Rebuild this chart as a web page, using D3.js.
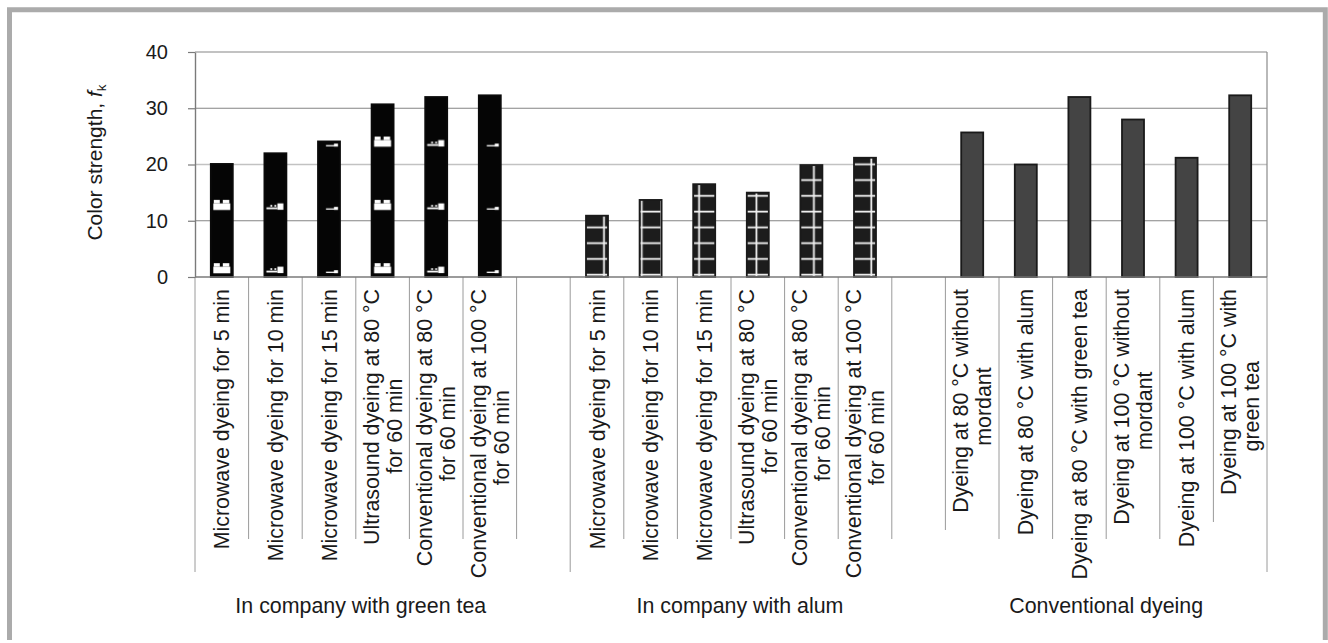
<!DOCTYPE html>
<html>
<head>
<meta charset="utf-8">
<script src="https://cdn.jsdelivr.net/npm/d3@7"></script>
<style>
  body { margin: 0; background: #fff; }
  text { font-family: "Liberation Sans", Arial, sans-serif; fill: #1a1a1a; }
</style>
</head>
<body>
<div id="chart"></div>
<script>
var svgWidth = 1328;
var svgHeight = 643;

var margin = {
  top: 52,
  right: 61,
  bottom: 366,
  left: 195
};

var width = svgWidth - margin.left - margin.right;
var height = svgHeight - margin.top - margin.bottom;

// data
var groupNames = ["In company with green tea", "In company with alum", "Conventional dyeing"];

var greenTeaLabels = [
  "Microwave dyeing for 5 min",
  "Microwave dyeing for 10 min",
  "Microwave dyeing for 15 min",
  "Ultrasound dyeing at 80 °C\nfor 60 min",
  "Conventional dyeing at 80 °C\nfor 60 min",
  "Conventional dyeing at 100 °C\nfor 60 min"
];
var greenTeaValues = [20.1, 22.0, 24.1, 30.7, 32.0, 32.3];

var alumLabels = greenTeaLabels.slice();
var alumValues = [10.9, 13.7, 16.5, 15.0, 19.9, 21.2];

var conventionalLabels = [
  "Dyeing at 80 °C without\nmordant",
  "Dyeing at 80 °C with alum",
  "Dyeing at 80 °C with green tea",
  "Dyeing at 100 °C without\nmordant",
  "Dyeing at 100 °C with alum",
  "Dyeing at 100 °C with\ngreen tea"
];
var conventionalValues = [25.7, 20.0, 32.0, 28.0, 21.2, 32.3];

var yTicks = [0, 10, 20, 30, 40];

// build the 20 category slots (6 + gap + 6 + gap + 6)
var slots = [];
[[greenTeaLabels, greenTeaValues], [alumLabels, alumValues], [conventionalLabels, conventionalValues]]
  .forEach(function(g, gi) {
    g[0].forEach(function(lab, i) {
      slots.push({key: "g" + gi + "-" + i, group: gi, label: lab, value: g[1][i]});
    });
    if (gi < 2) slots.push({key: "gap" + gi, group: -1, label: "", value: null});
  });

// how far each slot divider drops below the axis (px)
var dividerDrop = {0: 295, 7: 295, 14: 253, 19: 245, 20: 295};
// small nudges of the group captions (px)
var groupShift = [5, 9, 0];

var svg = d3.select("#chart")
  .append("svg")
  .attr("width", svgWidth)
  .attr("height", svgHeight);

svg.append("rect").attr("width", svgWidth).attr("height", svgHeight).attr("fill", "#fff");

// grey frame
svg.append("path")
  .attr("d", "M9.5,640 V9.8 H1325.3 V640")
  .attr("fill", "none")
  .attr("stroke", "#ababab")
  .attr("stroke-width", 5);

var chartGroup = svg.append("g")
  .attr("transform", `translate(${margin.left}, ${margin.top})`);

var x = d3.scaleBand()
  .domain(slots.map(d => d.key))
  .range([0, width])
  .padding(0);

var y = d3.scaleLinear()
  .domain([0, 40])
  .range([height, 0]);

var step = x.step();
var bw = 22;

// patterns
var defs = svg.append("defs");

// green tea: black with small white marks
var tile = 3 * step, tileH = 63.3;
var tea = defs.append("pattern")
  .attr("id", "teaPat")
  .attr("patternUnits", "userSpaceOnUse")
  .attr("x", 0).attr("y", y(0))
  .attr("width", tile).attr("height", tileH);
tea.append("rect").attr("width", tile).attr("height", tileH).attr("fill", "#050505");
var b0 = step / 2 - bw / 2, b2 = b0 + 2 * step;
var marks = [
  // bold
  [b0 + 3, 49.5, 6, 3.5], [b0 + 12, 49.5, 6.5, 3.5], [b0 + 2.5, 53, 17, 6.6],
  // medium
  [b0 + step + 2, 57, 11, 1.8], [b0 + step + 13, 53, 6, 6.4], [b0 + step + 6, 54.5, 1.8, 1.8], [b0 + step + 10, 54.5, 1.8, 1.8],
  // thin
  [b2 + 8, 58, 9, 1.3], [b2 + 16, 56.5, 4, 3]
];
marks.forEach(function(m) {
  tea.append("rect").attr("x", m[0]).attr("y", m[1]).attr("width", m[2]).attr("height", m[3]).attr("fill", "#fff");
});

// alum: dark with white ladder lines
var alumW = 57.4, alumH = 15.77;
var alum = defs.append("pattern")
  .attr("id", "alumPat")
  .attr("patternUnits", "userSpaceOnUse")
  .attr("x", 0).attr("y", y(0))
  .attr("width", alumW).attr("height", alumH);
alum.append("rect").attr("width", alumW).attr("height", alumH).attr("fill", "#1c1c1c");
alum.append("rect").attr("x", 0).attr("y", alumH - 3.2).attr("width", alumW).attr("height", 1.8).attr("fill", "#f2f2f2");
alum.append("rect").attr("x", 44).attr("y", 0).attr("width", 1.8).attr("height", alumH).attr("fill", "#f2f2f2");
alum.append("rect").attr("x", 6.3).attr("y", 0).attr("width", 1.8).attr("height", alumH).attr("fill", "#f2f2f2");

// gridlines
chartGroup.selectAll(".grid")
  .data(yTicks.filter(t => t > 0))
  .enter()
  .append("line")
  .attr("x1", 0)
  .attr("x2", width)
  .attr("y1", d => y(d))
  .attr("y2", d => y(d))
  .attr("stroke", d => d === 20 ? "#c2c2c2" : "#858585")
  .attr("stroke-width", d => d === 20 ? 1.6 : 1.2);

// right border
chartGroup.append("line")
  .attr("x1", width).attr("x2", width)
  .attr("y1", 0).attr("y2", height)
  .attr("stroke", "#8a8a8a").attr("stroke-width", 1.2);

// slot dividers below the axis
var bounds = d3.range(slots.length + 1);
chartGroup.selectAll(".divider")
  .data(bounds)
  .enter()
  .append("line")
  .attr("x1", d => d * step)
  .attr("x2", d => d * step)
  .attr("y1", height)
  .attr("y2", d => height + (dividerDrop[d] || 262))
  .attr("stroke", "#9a9a9a")
  .attr("stroke-width", 1);

// bars
var fills = ["url(#teaPat)", "url(#alumPat)", "#444444"];
var strokes = ["#0a0a0a", "#1a1a1a", "#1a1a1a"];
chartGroup.selectAll(".bar")
  .data(slots.filter(d => d.value !== null))
  .enter()
  .append("rect")
  .attr("x", d => x(d.key) + x.bandwidth() / 2 - bw / 2)
  .attr("y", d => y(d.value))
  .attr("width", bw)
  .attr("height", d => y(0) - y(d.value))
  .attr("fill", d => fills[d.group])
  .attr("stroke", d => strokes[d.group])
  .attr("stroke-width", 1.8);

// baseline
chartGroup.append("line")
  .attr("x1", 0).attr("x2", width)
  .attr("y1", y(0)).attr("y2", y(0))
  .attr("stroke", "#7a7a7a").attr("stroke-width", 1.4);

// y axis
var leftAxis = d3.axisLeft(y).tickValues(yTicks).tickSize(7).tickSizeOuter(0).tickPadding(20);
var yAxis = chartGroup.append("g").call(leftAxis);
yAxis.select(".domain").attr("stroke", "#7a7a7a").attr("stroke-width", 1.4);
yAxis.selectAll(".tick line").attr("stroke", "#7a7a7a").attr("stroke-width", 1.2);
yAxis.selectAll(".tick text")
  .style("font-size", "20px")
  .style("font-family", "'Liberation Sans', Arial, sans-serif")
  .attr("fill", "#1a1a1a");

// y axis title
var yTitle = chartGroup.append("text")
  .attr("transform", `translate(-93, ${height / 2 - 2}) rotate(-90)`)
  .attr("text-anchor", "middle")
  .style("font-size", "21px");
yTitle.append("tspan").text("Color strength, ");
yTitle.append("tspan").style("font-style", "italic").text("f");
yTitle.append("tspan").attr("dy", "0.3em").style("font-size", "13.5px").text("k");

// category labels
var lh = 23;
var labelTop = height + 12;
var catLabels = chartGroup.selectAll(".cat")
  .data(slots.filter(d => d.label !== ""))
  .enter()
  .append("text")
  .attr("transform", d => `translate(${x(d.key) + x.bandwidth() / 2}, ${labelTop}) rotate(-90)`)
  .style("font-size", "21.4px");

catLabels.each(function(d) {
  var t = d3.select(this);
  var lines = d.label.split("\n");
  var first = t.append("tspan")
    .attr("x", 0)
    .attr("y", -lh / 2 * (lines.length - 1) + 7.5)
    .attr("text-anchor", "end")
    .text(lines[0]);
  if (lines.length > 1) {
    var len = first.node().getComputedTextLength();
    t.append("tspan")
      .attr("x", -len * 0.35)
      .attr("y", lh / 2 + 7.5)
      .attr("text-anchor", "end")
      .text(lines[1]);
  }
});

// group labels
chartGroup.selectAll(".grp")
  .data(groupNames)
  .enter()
  .append("text")
  .attr("x", function(d, gi) {
    var s = slots.filter(e => e.group === gi);
    return (x(s[0].key) + x(s[s.length - 1].key) + step) / 2 + groupShift[gi];
  })
  .attr("y", 561)
  .attr("text-anchor", "middle")
  .style("font-size", "21.4px")
  .text(d => d);
</script>
</body>
</html>
